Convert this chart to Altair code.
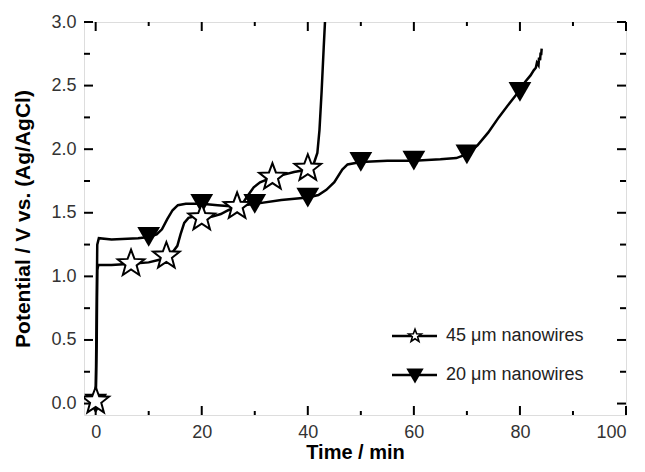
import altair as alt
import pandas as pd
import numpy as np

# ---------------- data ----------------
# 45 um nanowires (open stars) - trace
t45 = [0, 0.2, 0.3, 0.5, 3, 6.7, 10, 12, 13.4, 14.5, 15.4, 16.0, 16.7, 17.5, 18.5, 20, 22, 23.6,
       25, 26.7, 27.8, 28.6, 29.8, 31, 33.4, 35.5, 37.4, 40, 41, 41.8, 42.2, 42.6, 43.0, 43.3]
v45 = [0.02, 0.5, 1.05, 1.09, 1.09, 1.10, 1.11, 1.13, 1.16, 1.19, 1.24, 1.33, 1.42, 1.46, 1.47, 1.46, 1.47, 1.49,
       1.52, 1.55, 1.58, 1.63, 1.70, 1.74, 1.78, 1.80, 1.82, 1.84, 1.87, 1.97, 2.15, 2.45, 2.80, 3.05]
# 45 um markers
t45_m = [0, 6.67, 13.33, 20, 26.67, 33.33, 40]
v45_m = [0.02, 1.10, 1.16, 1.46, 1.55, 1.78, 1.85]

# 20 um nanowires (filled triangles) - trace
t20 = [0, 0.15, 0.3, 0.6, 3, 8, 10, 11.5, 12.5, 13.5, 14.5, 15.5, 17, 20, 23, 26, 28, 30, 35, 40, 42, 43.5,
       45, 46.5, 47.5, 50, 55, 60, 65, 68, 70, 72, 74, 76, 78, 79.7, 81, 82, 82.6, 83.0, 83.2, 83.5, 83.6,
       83.8, 83.9, 84.0, 84.1]
v20 = [0.0, 0.6, 1.25, 1.30, 1.29, 1.30, 1.31, 1.33, 1.37, 1.45, 1.52, 1.56, 1.57, 1.57, 1.56, 1.55, 1.56, 1.57,
       1.60, 1.62, 1.64, 1.68, 1.74, 1.84, 1.88, 1.90, 1.91, 1.91, 1.92, 1.93, 1.96, 2.03, 2.13, 2.25, 2.36,
       2.45, 2.53, 2.58, 2.62, 2.64, 2.68, 2.66, 2.72, 2.70, 2.76, 2.74, 2.79]
# 20 um markers
t20_m = [0, 10, 20, 30, 40, 50, 60, 70, 80]
v20_m = [0.0, 1.31, 1.57, 1.57, 1.62, 1.90, 1.91, 1.96, 2.45]

# axis ticks
x_major = [0, 20, 40, 60, 80, 100]
x_minor = [10, 30, 50, 70, 90]
y_major = [0.0, 0.5, 1.0, 1.5, 2.0, 2.5, 3.0]
y_minor = [0.25, 0.75, 1.25, 1.75, 2.25, 2.75]

legend_labels = ["45 \u03bcm nanowires", "20 \u03bcm nanowires"]

# ---------------- layout ----------------
W, H = 542, 393
XDOM = [-2.2, 100]
YDOM = [-0.09, 3.0]
FONT = "Liberation Sans"

xs = alt.Scale(domain=XDOM, nice=False, zero=False)
ys = alt.Scale(domain=YDOM, nice=False, zero=False)

# star path
ang = np.deg2rad(-90 + np.arange(10) * 36)
rad = np.where(np.arange(10) % 2 == 0, 1.0, 0.42)
pts = [f"{r*np.cos(a):.4f},{r*np.sin(a):.4f}" for r, a in zip(rad, ang)]
STAR = "M" + "L".join(pts) + "Z"

df45 = pd.DataFrame({"t": t45, "v": v45, "i": range(len(t45))})
df20 = pd.DataFrame({"t": t20, "v": v20, "i": range(len(t20))})
df45m = pd.DataFrame({"t": t45_m, "v": v45_m})
df20m = pd.DataFrame({"t": t20_m, "v": v20_m})

x_axis = alt.Axis(values=x_major, format="d", tickSize=0, domain=False, grid=False,
                  labelFont=FONT, labelFontSize=18, labelColor="#333333", labelPadding=8,
                  title="Time / min", titleFont=FONT, titleFontSize=20, titleFontWeight="bold",
                  titleColor="black", titlePadding=1)
y_axis = alt.Axis(values=y_major, format=".1f", tickSize=0, domain=False, grid=False,
                  labelFont=FONT, labelFontSize=18, labelColor="#333333", labelPadding=8,
                  title="Potential / V vs. (Ag/AgCl)", titleFont=FONT, titleFontSize=21,
                  titleFontWeight="bold", titleColor="black", titlePadding=17)

X = alt.X("t:Q", scale=xs, axis=x_axis, title="Time / min")
Y = alt.Y("v:Q", scale=ys, axis=y_axis, title="Potential / V vs. (Ag/AgCl)")

line45 = alt.Chart(df45).mark_line(color="black", strokeWidth=2.5, clip=True).encode(
    x=X, y=Y, order="i:Q")
line20 = alt.Chart(df20).mark_line(color="black", strokeWidth=2.5, clip=True).encode(
    x=X, y=Y, order="i:Q")
tri = alt.Chart(df20m).mark_point(shape="triangle-down", size=520, filled=True, color="black",
                                  opacity=1, clip=True).encode(x=X, y=Y)
star = alt.Chart(df45m).mark_point(shape=STAR, size=784, filled=True, fill="white", stroke="black",
                                   strokeWidth=2, opacity=1, clip=True).encode(x=X, y=Y)

def xticks(vals, y0, y1):
    return alt.Chart(pd.DataFrame({"t": vals})).mark_rule(color="black", strokeWidth=2).encode(
        x=X, y=alt.value(y0), y2=alt.value(y1))

def yticks(vals, x0, x1):
    return alt.Chart(pd.DataFrame({"v": vals})).mark_rule(color="black", strokeWidth=2).encode(
        y=Y, x=alt.value(x0), x2=alt.value(x1))

ticks = [
    xticks(x_major, H, H - 9), xticks(x_minor, H, H - 4),
    xticks(x_major, 0, 9), xticks(x_minor, 0, 4),
    yticks(y_major, 0, 9), yticks(y_minor, 0, 6),
    yticks(y_major, W, W - 9), yticks(y_minor, W, W - 6),
]

# ---------------- legend ----------------
LX0, LX1, LSYM, LTXT = 308, 353, 331, 362
LY = [314, 353]
leg_layers = []
for k, lab in enumerate(legend_labels):
    d = pd.DataFrame({"label": [lab]})
    leg_layers.append(alt.Chart(d).mark_rule(color="black", strokeWidth=2.5).encode(
        x=alt.value(LX0), x2=alt.value(LX1), y=alt.value(LY[k])))
    if k == 0:
        leg_layers.append(alt.Chart(d).mark_point(shape=STAR, size=180, filled=True, fill="white",
                                                  stroke="black", strokeWidth=1.6, opacity=1).encode(
            x=alt.value(LSYM), y=alt.value(LY[k])))
    else:
        leg_layers.append(alt.Chart(d).mark_point(shape="triangle-down", size=300, filled=True,
                                                  color="black", opacity=1).encode(
            x=alt.value(LSYM), y=alt.value(LY[k] + 1)))
    leg_layers.append(alt.Chart(d).mark_text(align="left", baseline="middle", font=FONT, fontSize=18,
                                             color="#222222").encode(
        x=alt.value(LTXT), y=alt.value(LY[k]), text="label:N"))

chart = alt.layer(line45, line20, *ticks, tri, star, *leg_layers).properties(
    width=W, height=H,
    autosize=alt.AutoSizeParams(type="none"),
    padding={"left": 76, "top": 14, "right": 11, "bottom": 49},
).configure_view(stroke="black", strokeWidth=2).configure(background="white")

chart.save("out.html", embed_options={"renderer": "svg", "actions": False})
